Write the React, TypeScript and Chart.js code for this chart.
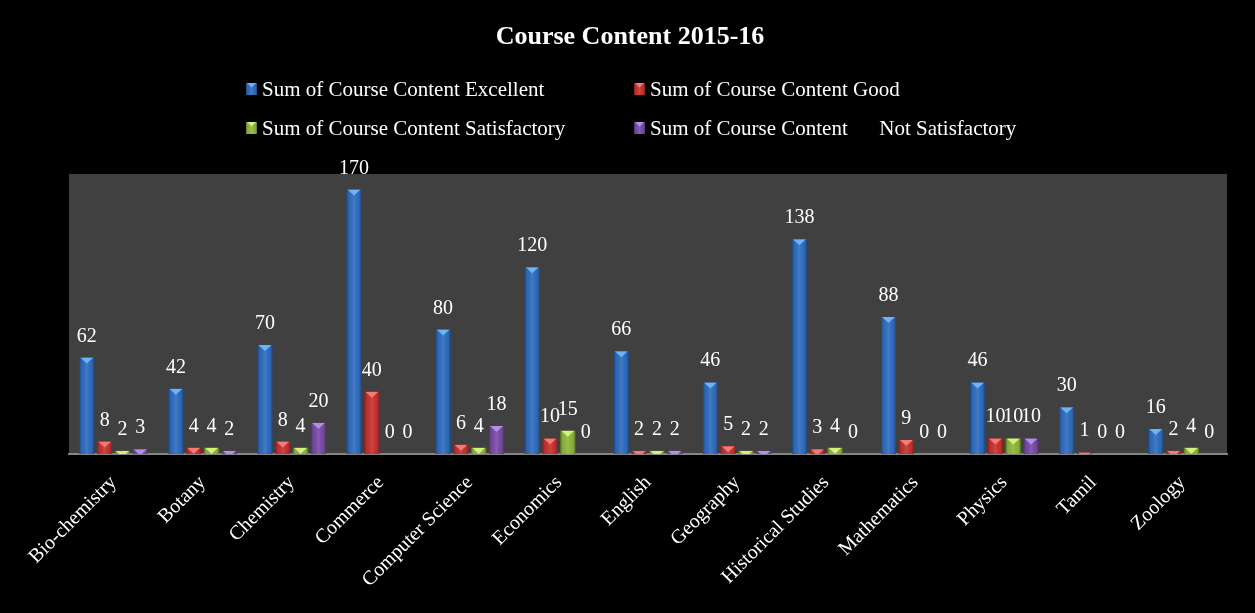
import React, { useEffect, useRef } from 'react';
import { Chart, registerables } from 'chart.js';

Chart.register(...registerables);

const FONT = "'Liberation Serif', 'Times New Roman', serif";

const chartTitle = 'Course Content 2015-16';
const categories = [
  'Bio-chemistry', 'Botany', 'Chemistry', 'Commerce', 'Computer Science', 'Economics',
  'English', 'Geography', 'Historical Studies', 'Mathematics', 'Physics', 'Tamil', 'Zoology',
];
const seriesNames = [
  'Sum of Course Content Excellent',
  'Sum of Course Content Good',
  'Sum of Course Content Satisfactory',
  'Sum of Course Content      Not Satisfactory',
];
const excellent = [62, 42, 70, 170, 80, 120, 66, 46, 138, 88, 46, 30, 16];
const good = [8, 4, 8, 40, 6, 10, 2, 5, 3, 9, 10, 1, 2];
const satisfactory = [2, 4, 4, 0, 4, 15, 2, 2, 4, 0, 10, 0, 4];
const notSatisfactory = [3, 2, 20, 0, 18, 0, 2, 2, 0, 0, 10, 0, 0];

const baseColors = ['#2e6cc0', '#c8312e', '#8fb83a', '#7a4aa8'];
const lightColors = ['#6cb4f4', '#f47a78', '#d4f080', '#b48ee8'];

function shadeRect(ctx: CanvasRenderingContext2D, l: number, t: number, w: number, h: number, light: string) {
  const g = ctx.createLinearGradient(l, 0, l + w, 0);
  g.addColorStop(0, 'rgba(0,0,0,0.35)');
  g.addColorStop(0.15, 'rgba(0,0,0,0.05)');
  g.addColorStop(0.5, 'rgba(255,255,255,0.10)');
  g.addColorStop(0.85, 'rgba(0,0,0,0.05)');
  g.addColorStop(1, 'rgba(0,0,0,0.35)');
  ctx.fillStyle = g;
  ctx.fillRect(l, t, w, h);
  ctx.save();
  ctx.beginPath();
  ctx.rect(l, t, w, h);
  ctx.clip();
  ctx.fillStyle = light;
  ctx.beginPath();
  ctx.moveTo(l + 1, t);
  ctx.lineTo(l + w - 1, t);
  ctx.lineTo(l + w / 2, t + Math.min(6, w * 0.4));
  ctx.closePath();
  ctx.fill();
  ctx.restore();
}

const decor = {
  id: 'decor',
  beforeDraw(chart: any) {
    const { ctx, chartArea: a } = chart;
    ctx.save();
    ctx.fillStyle = '#000';
    ctx.fillRect(0, 0, chart.width, chart.height);
    ctx.fillStyle = '#404040';
    ctx.fillRect(a.left, a.top, a.right - a.left, a.bottom - a.top);
    ctx.restore();
  },
  afterDatasetsDraw(chart: any) {
    const ctx: CanvasRenderingContext2D = chart.ctx;
    ctx.save();
    chart.data.datasets.forEach((ds: any, i: number) => {
      const meta = chart.getDatasetMeta(i);
      meta.data.forEach((bar: any, j: number) => {
        const { x, y, base, width } = bar.getProps(['x', 'y', 'base', 'width'], true);
        const l = x - width / 2;
        const h = base - y;
        if (h > 0.5) shadeRect(ctx, l, y, width, h, lightColors[i]);
      });
    });
    ctx.fillStyle = '#ffffff';
    ctx.font = `20px ${FONT}`;
    ctx.textAlign = 'center';
    ctx.textBaseline = 'alphabetic';
    chart.data.datasets.forEach((ds: any, i: number) => {
      const meta = chart.getDatasetMeta(i);
      meta.data.forEach((bar: any, j: number) => {
        const { x, y } = bar.getProps(['x', 'y'], true);
        ctx.fillText(String(ds.data[j]), x, y - 16);
      });
    });
    ctx.restore();
  },
  afterDraw(chart: any) {
    const ctx: CanvasRenderingContext2D = chart.ctx;
    ctx.save();
    ctx.fillStyle = '#ffffff';
    ctx.font = `bold 26px ${FONT}`;
    ctx.textAlign = 'center';
    ctx.textBaseline = 'middle';
    ctx.fillText(chartTitle, 630, 37);
    const cols = [246, 634];
    const rows = [89, 128];
    ctx.font = `21px ${FONT}`;
    ctx.textAlign = 'left';
    chart.data.datasets.forEach((ds: any, i: number) => {
      const x = cols[i % 2];
      const y = rows[Math.floor(i / 2)];
      ctx.fillStyle = baseColors[i];
      ctx.fillRect(x, y - 6, 11, 12);
      shadeRect(ctx, x, y - 6, 11, 12, lightColors[i]);
      ctx.fillStyle = '#ffffff';
      ctx.fillText(ds.label, x + 16, y + 1);
    });
    ctx.restore();
  },
};

export default function App() {
  const ref = useRef<HTMLCanvasElement>(null);
  useEffect(() => {
    if (!ref.current) return;
    const series = [excellent, good, satisfactory, notSatisfactory];
    const chart = new Chart(ref.current, {
      type: 'bar',
      data: {
        labels: categories,
        datasets: series.map((d, i) => ({
          label: seriesNames[i],
          data: d,
          backgroundColor: baseColors[i],
          borderWidth: 0,
          categoryPercentage: 0.8,
          barPercentage: 0.84,
        })),
      },
      options: {
        responsive: false,
        animation: false,
        layout: { padding: { top: 174, left: 69, right: 28, bottom: 0 } },
        plugins: {
          legend: { display: false },
          title: { display: false },
          tooltip: { enabled: false },
        },
        scales: {
          x: {
            grid: { display: false, drawTicks: false },
            border: { display: true, color: '#858585', width: 2 },
            ticks: {
              color: '#ffffff',
              font: { family: FONT, size: 20 },
              minRotation: 45,
              maxRotation: 45,
              padding: 17,
              autoSkip: false,
            },
            afterFit: (scale: any) => {
              scale.height = 159;
            },
          },
          y: {
            display: false,
            min: 0,
            max: 180,
          },
        },
      },
      plugins: [decor],
    });
    return () => chart.destroy();
  }, []);
  return (
    <div style={{ position: 'absolute', left: 0, top: 0, width: 1255, height: 613, background: '#000' }}>
      <canvas ref={ref} width={1255} height={613} style={{ display: 'block' }} />
    </div>
  );
}
